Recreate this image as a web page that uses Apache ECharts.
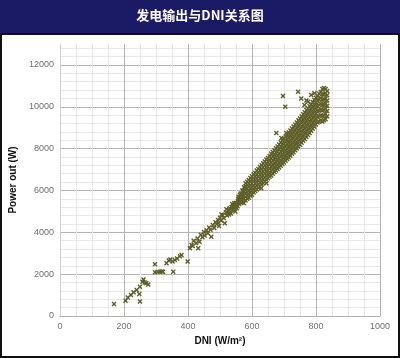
<!DOCTYPE html>
<html>
<head>
<meta charset="utf-8">
<script src="https://cdn.jsdelivr.net/npm/echarts@6/dist/echarts.min.js"></script>
<style>html,body{margin:0;padding:0;background:#fff}#c{width:400px;height:358px}</style>
</head>
<body>
<div id="c"></div>
<script>
const titleText = '发电输出与DNI关系图';
const xName = 'DNI (W/m²)';
const yName = 'Power out (W)';
const xTicks = [0, 200, 400, 600, 800, 1000];
const yTicks = [0, 2000, 4000, 6000, 8000, 10000, 12000];

// sparse low-irradiance points [DNI, W]
const lowPoints = [
  [169,570],[205,730],[212,890],[222,1000],[230,1130],[240,1240],[248,1050],[250,690],
  [250,1400],[258,1640],[261,1750],[265,1600],[270,1560],[276,1500],[297,2470],[297,2090],
  [305,2110],[312,2120],[318,2130],[322,2120],[354,2120],[333,2520],[340,2650],[345,2700],
  [352,2600],[359,2680],[366,2750],[375,2850],[380,2920],[399,2600],[406,3240],[411,3390],
  [432,3240]
];
// transition region
const midPoints = [
  [415,3350],[418,3600],[425,3480],[430,3700],[436,3550],[440,3880],[445,3760],[450,4020],
  [452,3850],[458,4100],[462,3950],[466,4230],[470,4120],[473,3790],[478,4350],[482,4200],
  [486,4480],[490,4400],[494,4590],[497,4300],[500,4700],[504,4560],[508,4820],[512,4680],
  [515,4430],[518,4950],[522,4800],[525,4910],[528,5080],[532,4950],[536,5200],[540,5060],
  [543,5320],[546,5220],[550,5400],[553,5150],[556,5480],[560,5350],[563,5600],[548,5000],
  [538,5350],[528,4850],[520,5100],[505,4850],[495,4450],[540,5200],[545,5400],[552,5300],
  [557,5600],[555,5250],[560,5500],[558,5700],[530,5150],[534,4900],[544,5150],[562,5800]
];
// dense band: DNI column with its power readings
const bandDni = [565,570,575,580,585,590,595,600,605,610,615,620,625,630,635,640,645,650,655,660,
  665,670,675,680,685,690,695,700,705,710,715,720,725,730,735,740,745,750,755,760,765,770,775,780,
  785,790,795,800,805,810,815,820,825,830,835];
const bandPower = [
  [5450,5650,5850],[5420,5600,5800,6000],[5400,5600,5780,5980,6150],
  [5520,5690,5850,6020,6190,6350],[5600,5760,5930,6090,6260,6420],[5650,5820,5990,6160,6330,6500],
  [5750,5920,6090,6260,6430,6600],[5800,5980,6150,6330,6500,6680],[5900,6080,6250,6430,6600,6780],
  [5980,6150,6330,6500,6680,6850],[6050,6230,6410,6590,6770,6950],[6120,6300,6480,6670,6850,7030],
  [6200,6380,6570,6750,6940,7120],[6280,6460,6650,6830,7020,7200],[6350,6540,6730,6920,7110,7300],
  [6430,6620,6810,7000,7190,7380],[6500,6700,6890,7090,7280,7480],[6580,6770,6970,7160,7360,7550],
  [6650,6850,7050,7250,7450,7650],[6720,6930,7130,7340,7540,7750],[6800,7010,7220,7420,7630,7840],
  [6880,7090,7300,7500,7710,7920],[6950,7160,7370,7590,7800,8020],[7030,7240,7450,7670,7880,8100],
  [7100,7320,7540,7760,7980,8200],[7180,7400,7630,7850,8080,8300],[7260,7490,7720,7940,8170,8400],
  [7340,7570,7800,8020,8250,8480],[7420,7650,7890,8120,8350,8580],[7500,7740,7980,8210,8450,8680],
  [7580,7820,8060,8290,8530,8770],[7660,7900,8140,8390,8630,8870],[7750,7990,8230,8480,8720,8960],
  [7830,8080,8320,8570,8810,9060],[7920,8170,8410,8660,8900,9150],[8000,8250,8500,8750,9000,9250],
  [8100,8350,8600,8850,9100,9350],[8180,8430,8690,8940,9180,9440],[8280,8530,8780,9040,9290,9540],
  [8370,8620,8880,9130,9390,9640],[8460,8720,8970,9230,9480,9740],[8560,8820,9070,9330,9580,9840],
  [8650,8910,9170,9420,9680,9930],[8750,9010,9270,9520,9780,10030],[8850,9110,9370,9620,9880,10130],
  [8950,9210,9470,9720,9980,10230],[9050,9310,9570,9820,10080,10330],[9150,9410,9670,9920,10180,10430],
  [9250,9510,9770,10020,10280,10530],[9300,9560,9820,10080,10350,10620],[9350,9600,9870,10150,10420,10700],
  [9300,9560,9820,10080,10340,10600,10850],[9350,9600,9850,10100,10350,10600,10900],
  [9400,9650,9900,10150,10400,10650,10850],[9550,9800,10050,10300,10550,10750]
];
// scattered outliers
const outlierPoints = [
  [676,8750],[692,8510],[707,8750],[697,10520],[704,10000],[744,10720],[754,10400],[764,10090],
  [775,10240],[785,10560],[795,10650],[770,10300],[629,6100],[645,6340]
];

const bandPoints = [];
bandDni.forEach((d, i) => bandPower[i].forEach(p => bandPoints.push([d, p])));
const allPoints = lowPoints.concat(midPoints, bandPoints, outlierPoints);

const chart = echarts.init(document.getElementById('c'), null, {renderer: 'canvas'});
const labelStyle = {color: '#707070', fontSize: 9, fontFamily: 'Liberation Sans'};
chart.setOption({
  animation: false,
  backgroundColor: '#ffffff',
  graphic: [
    {type: 'rect', shape: {x: 0, y: 0, width: 400, height: 33}, style: {fill: '#1b1a64'}, z: 10},
    {type: 'text', left: 'center', top: 9, style: {text: titleText, fill: '#ffffff', font: 'bold 13px "Noto Sans CJK SC"'}, z: 11},
    {type: 'rect', shape: {x: 1, y: 34, width: 398, height: 323}, style: {fill: 'none', stroke: '#111', lineWidth: 2}, z: 10}
  ],
  grid: {left: 58, right: 20, top: 44, bottom: 42},
  xAxis: {
    type: 'value', min: xTicks[0], max: xTicks[xTicks.length - 1], interval: 200,
    name: xName, nameLocation: 'middle', nameGap: 18,
    nameTextStyle: {color: '#111', fontWeight: 'bold', fontSize: 10, fontFamily: 'Liberation Sans'},
    axisLine: {show: true, lineStyle: {color: '#b0b0b0'}},
    axisTick: {show: false},
    axisLabel: Object.assign({margin: 6, formatter: v => String(v)}, labelStyle),
    splitLine: {show: true, lineStyle: {color: '#b3b3b3', width: 1}},
    minorTick: {show: false, splitNumber: 4},
    minorSplitLine: {show: true, lineStyle: {color: '#e8e8e8', width: 1}}
  },
  yAxis: {
    type: 'value', min: yTicks[0], max: 13000, interval: 2000,
    name: yName, nameLocation: 'middle', nameGap: 34, nameRotate: 90,
    nameTextStyle: {color: '#111', fontWeight: 'bold', fontSize: 10, fontFamily: 'Liberation Sans'},
    axisLine: {show: true, lineStyle: {color: '#d0d0d0'}},
    axisTick: {show: false},
    axisLabel: Object.assign({margin: 6, showMaxLabel: false,
      formatter: v => (yTicks.indexOf(v) >= 0 ? String(v) : '')}, labelStyle),
    splitLine: {show: true, showMaxLine: false, lineStyle: {color: '#b3b3b3', width: 1}},
    minorTick: {show: false, splitNumber: 5},
    minorSplitLine: {show: true, lineStyle: {color: '#e8e8e8', width: 1}}
  },
  series: [{
    type: 'scatter',
    data: allPoints,
    symbol: 'path://M0,2L2,0L5,3L8,0L10,2L7,5L10,8L8,10L5,7L2,10L0,8L3,5Z',
    symbolSize: 5,
    itemStyle: {color: '#5f5f2a', opacity: 1}
  }]
});
</script>
</body>
</html>
